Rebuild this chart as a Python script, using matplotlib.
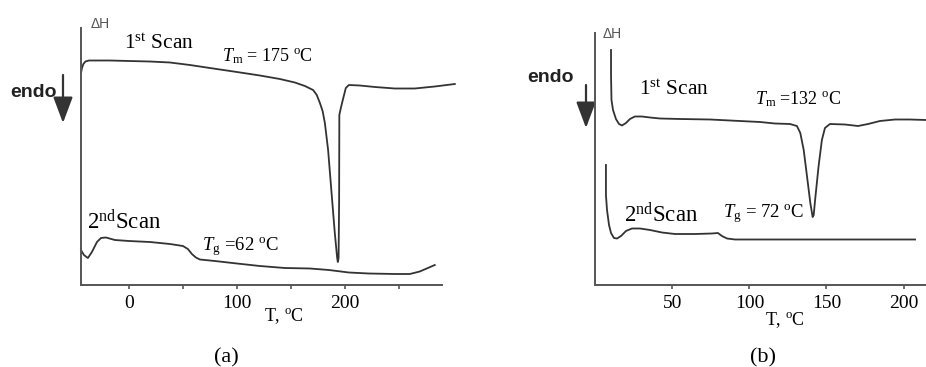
import matplotlib
matplotlib.use("Agg")
import matplotlib.pyplot as plt

W, H = 926, 367

plt.rcParams["font.family"] = ["Liberation Serif", "DejaVu Serif"]
plt.rcParams["mathtext.fontset"] = "custom"
plt.rcParams["mathtext.rm"] = "Liberation Serif"
plt.rcParams["mathtext.it"] = "Liberation Serif:italic"

LINE = "#333333"
AXIS = "#555555"

# (a) DSC traces, temperature in degC, heat flow in arbitrary units
t_1a = [-44.4, -43.5, -42.2, -40.3, -37, -17.6, 0, 19.4, 38, 56.5, 75, 100, 121.3,
        139.8, 153.7, 163, 170.6, 174, 176.9, 179.4, 181.5, 184.5, 187.7, 190.7,
        192.9, 193.5, 194.2, 194.7, 194.9, 196.3, 198.1, 200.9, 203.7, 213.9,
        227.8, 246.3, 264.8, 283.3, 301.9]
h_1a = [212, 217, 221, 223.5, 224.5, 224.5, 224, 223.5, 222.5, 220, 217, 213, 209.5,
        206, 202.5, 199, 195, 190, 182, 174, 162, 135, 92, 52,
        27, 23, 27, 85, 170, 177, 185, 197, 200, 199.5,
        198, 196.5, 196.5, 198.5, 201]

t_2a = [-44.4, -41.7, -38, -34.3, -29.6, -25.9, -21.3, -13, 0, 19.4, 38, 50, 54.6,
        58.3, 62, 65.7, 79.6, 100, 121.3, 144.4, 167.6, 185.2, 203.7, 222.2,
        246.3, 260.2, 269.4, 276.9, 283.3]
h_2a = [35, 30, 27, 33, 43, 47, 47.5, 45, 44, 43, 41, 39, 36,
        31, 27.5, 25.5, 24, 21.5, 19, 17, 16.5, 15, 12.5, 11.5,
        11, 11, 13.5, 17, 20]

# (b)
t_1b = [10.1, 10.1, 10.4, 11.4, 13.3, 15.3, 17.2, 19.8, 22.4, 25.6, 30.2, 35.4, 41.9,
        54.9, 74.4, 93.8, 106.8, 116.6, 126.3, 130.8, 133, 135.2, 137.4, 139.5,
        141, 141.7, 142.6, 144.8, 147, 149, 152.2, 162, 170.5, 177, 184.7, 194.5,
        204.2, 214.6]
h_1b = [235, 210, 185, 175, 166, 161, 159.5, 162, 166, 168.5, 168.5, 167.5, 166.5,
        166, 165.5, 164, 163, 161.5, 161, 159, 152, 135, 108, 82,
        68, 70, 85, 118, 145, 157, 161, 160.5, 159, 161, 164, 165.5,
        165.5, 165]

t_2b = [6.8, 6.8, 7.5, 8.8, 10.1, 12, 14, 16.6, 19.8, 23.7, 28.9, 35.4, 43.2, 51.6,
        64.6, 75.6, 79.5, 82.1, 85.4, 90.6, 106.8, 132.8, 171.8, 207.5]
h_2b = [120, 90, 75, 60, 52, 47, 46.5, 49, 54, 56.5, 56.5, 55, 52.5, 51,
        51, 51.5, 52, 49, 46.5, 45.5, 45.5, 45.5, 45.5, 45.5]

ticks_a = [0, 100, 200]
minor_a = [50, 150, 250]
ticks_b = [50, 100, 150, 200]

fig = plt.figure(figsize=(W / 100, H / 100), dpi=100)


def box(x0, y0, x1, y1):
    # pixel box measured from the top-left corner
    return [x0 / W, 1 - y1 / H, (x1 - x0) / W, (y1 - y0) / H]


def ftext(x, y, s, **kw):
    kw.setdefault("va", "baseline")
    fig.text(x / W, 1 - y / H, s, **kw)


def style(ax):
    for side in ("top", "right"):
        ax.spines[side].set_visible(False)
    for side in ("left", "bottom"):
        ax.spines[side].set_color(AXIS)
        ax.spines[side].set_linewidth(1.4)
    ax.set_yticks([])
    ax.tick_params(axis="x", which="both", direction="out", length=3, width=1.2,
                   color=AXIS, labelsize=14, pad=4)


ax_a = fig.add_axes(box(81, 28, 442, 285))
ax_a.plot(t_1a, h_1a, color=LINE, lw=1.3, clip_on=False)
ax_a.plot(t_2a, h_2a, color=LINE, lw=1.3, clip_on=False)
ax_a.set_xlim(-44.4, 290)
ax_a.set_ylim(0, 257)
ax_a.set_xticks(ticks_a)
ax_a.set_xticks(minor_a, minor=True)
style(ax_a)

ax_b = fig.add_axes(box(595, 33, 926, 285))
ax_b.plot(t_1b, h_1b, color=LINE, lw=1.3, clip_on=False)
ax_b.plot(t_2b, h_2b, color=LINE, lw=1.3, clip_on=False)
ax_b.set_xlim(-0.3, 214.6)
ax_b.set_ylim(0, 252)
ax_b.set_xticks(ticks_b)
style(ax_b)

# panel (a) annotations
ftext(91, 28, "\u0394H", family="Liberation Sans", fontsize=10, color="#555555")
ftext(124, 49, r"1$^{\rm st}$ Scan", fontsize=15.5)
ftext(222, 61, r"$T_{\rm m}$ = 175 $^{\rm o}$C", fontsize=13)
ftext(87, 229, r"2$^{\rm nd}$Scan", fontsize=16.5)
ftext(202, 250, r"$T_{\rm g}$ =62 $^{\rm o}$C", fontsize=13.5)
ftext(10, 97, "endo", family="Liberation Sans", weight="bold", fontsize=14, color="#222222")
ftext(264, 321, r"T, $^{\rm o}$C", fontsize=13)
ftext(226, 362, "(a)", fontsize=16, ha="center")

# panel (b) annotations
ftext(603, 38, "\u0394H", family="Liberation Sans", fontsize=10, color="#555555")
ftext(639, 95, r"1$^{\rm st}$ Scan", fontsize=15.5)
ftext(755, 104, r"$T_{\rm m}$ =132 $^{\rm o}$C", fontsize=13)
ftext(624, 222, r"2$^{\rm nd}$Scan", fontsize=16.5)
ftext(723, 217, r"$T_{\rm g}$ = 72 $^{\rm o}$C", fontsize=13.5)
ftext(527, 82, "endo", family="Liberation Sans", weight="bold", fontsize=14, color="#222222")
ftext(765, 325, r"T, $^{\rm o}$C", fontsize=13)
ftext(763, 362, "(b)", fontsize=16, ha="center")

# endothermic direction arrows
for x, y0, y1 in [(63, 75, 123), (586, 85, 128)]:
    ax_a.annotate("", xy=(x, H - y1), xytext=(x, H - y0),
                  xycoords="figure pixels", textcoords="figure pixels",
                  annotation_clip=False,
                  arrowprops=dict(arrowstyle="-|>,head_length=0.8,head_width=0.3",
                                  mutation_scale=20, lw=1.6, color="#333333",
                                  shrinkA=0, shrinkB=0))

fig.savefig("out.png", dpi=100)
